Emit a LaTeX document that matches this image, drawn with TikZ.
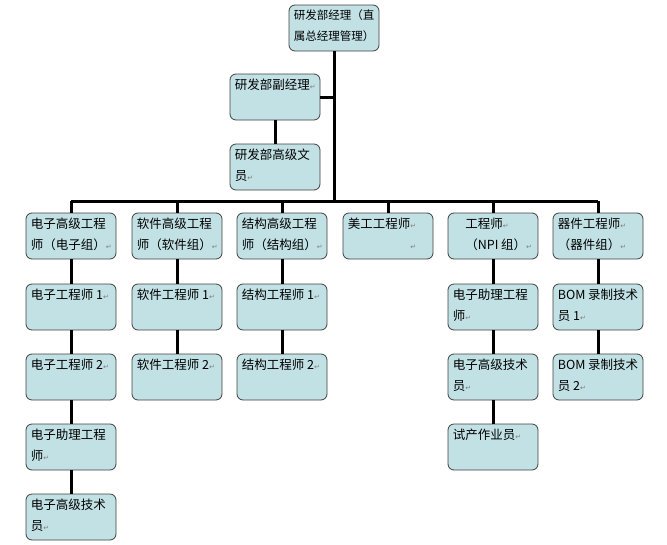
\documentclass[tikz,border=0pt]{standalone}
\usepackage{fontspec}
\setmainfont{Noto Sans CJK SC}
\newfontfamily\symf{DejaVu Sans}
\usetikzlibrary{positioning}
\definecolor{boxfill}{HTML}{C2E1E5}
\newcommand{\rt}{{\symf\color{gray}\scriptsize ↵}}
\newcommand{\bx}[4]{%
  \node[box] (#1) at (#2,#3) {};
  \node[txt, anchor=north west] (#1t) at (#1.north west) {#4};}
\begin{document}
\begin{tikzpicture}[x=1pt,y=-1pt,
    box/.style={draw=black!75,fill=boxfill,rounded corners=6pt,
      minimum width=90pt,minimum height=46pt,line width=0.8pt},
    txt/.style={font=\fontsize{12.5}{21}\selectfont,align=left,inner xsep=5pt,inner ysep=5pt},
    link/.style={line width=3pt}
  ]
  \useasboundingbox (0,0) rectangle (667,544);

  % top of the tree
  \bx{mgr}{334}{28}{\fontsize{11.5}{21}\selectfont 研发部经理（直\\\fontsize{11.5}{21}\selectfont 属总经理管理）}
  \bx{vice}{275}{97}{研发部副经理\rt}
  \bx{clerk}{275}{167}{研发部高级文\\员\rt}

  % columns
  \bx{ee}{71}{236}{电子高级工程\\师（电子组）\rt}
  \bx{sw}{177}{236}{软件高级工程\\师（软件组）\rt}
  \bx{me}{282}{236}{结构高级工程\\师（结构组）\rt}
  \bx{art}{388}{236}{美工工程师\rt\\\hfill\rt\hfill}
  \bx{npi}{493}{236}{\quad 工程师\rt\\\quad（NPI 组）\rt}
  \bx{cmp}{598}{236}{器件工程师\rt\\（器件组）\rt}

  \bx{eeA}{71}{307}{电子工程师 1\rt}
  \bx{eeB}{71}{377}{电子工程师 2\rt}
  \bx{eeC}{71}{447}{电子助理工程\\师\rt}
  \bx{eeD}{71}{517}{电子高级技术\\员\rt}
  \bx{swA}{177}{307}{软件工程师 1\rt}
  \bx{swB}{177}{377}{软件工程师 2\rt}
  \bx{meA}{282}{307}{结构工程师 1\rt}
  \bx{meB}{282}{377}{结构工程师 2\rt}
  \bx{npiA}{493}{307}{电子助理工程\\师\rt}
  \bx{npiB}{493}{377}{电子高级技术\\员\rt}
  \bx{npiC}{493}{447}{试产作业员\rt}
  \bx{cmpA}{598}{307}{BOM 录制技术\\员 1\rt}
  \bx{cmpB}{598}{377}{BOM 录制技术\\员 2\rt}

  % connectors
  \coordinate (busL) at (71,201);
  \coordinate (busR) at (598,201);
  \coordinate (busM) at (334,201);
  \draw[link] (mgr) -- (busM);
  \draw[link] (vice.east) -- (vice.east -| busM);
  \draw[link] (vice) -- (clerk);
  \draw[link] (busL) -- (busR);
  \foreach \c in {ee,sw,me,art,npi,cmp}
    \draw[link] (\c.north |- busL) -- (\c);
  \draw[link] (ee) -- (eeA) (eeA) -- (eeB) (eeB) -- (eeC) (eeC) -- (eeD);
  \draw[link] (sw) -- (swA) (swA) -- (swB);
  \draw[link] (me) -- (meA) (meA) -- (meB);
  \draw[link] (npi) -- (npiA) (npiA) -- (npiB) (npiB) -- (npiC);
  \draw[link] (cmp) -- (cmpA) (cmpA) -- (cmpB);
\end{tikzpicture}
\end{document}
